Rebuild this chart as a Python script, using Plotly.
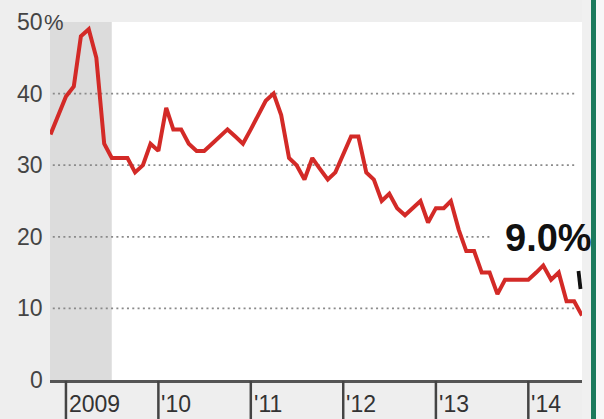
import plotly.graph_objects as go
import pandas as pd

# ---- data ----
dates = pd.date_range("2008-11-01", "2014-08-01", freq="MS")
values = [34.3, 37, 39.6, 41, 48, 49, 45, 33, 31, 31, 31, 29, 30, 33,  # Nov08-Dec09
          32, 38, 35, 35, 33, 32, 32, 33, 34, 35, 34, 33,                 # 2010
          35, 37, 39, 40, 37, 31, 30, 28, 31, 29.5, 28, 29,               # 2011
          31.5, 34, 34, 29, 28, 25, 26, 24, 23, 24, 25, 22,               # 2012
          24, 24, 25, 21, 18, 18, 15, 15, 12, 14, 14, 14,                 # 2013
          14, 15, 16, 14, 15, 11, 11, 9]                                  # 2014
year_ticks = ["2009-01-01", "2010-01-01", "2011-01-01", "2012-01-01", "2013-01-01", "2014-01-01"]
year_labels = ["2009", "'10", "'11", "'12", "'13", "'14"]
y_ticks = [0, 10, 20, 30, 40, 50]
y_labels = ["0", "10", "20", "30", "40", "50"]
recession = ["2008-10-30", "2009-07-01"]
grid_start = "2008-10-20"
grid_ends = {10: "2014-07-12", 20: "2013-08-11", 30: "2014-07-12", 40: "2014-07-12"}
last_label = "9.0%"

FONT = "Liberation Sans"
L, R, T, B = 50, 22, 22, 39
W, H = 604, 419
pw, ph = W - L - R, H - T - B

def px_x(p):
    return (p - L) / pw

def px_y(p):
    return (H - B - p) / ph

fig = go.Figure()
fig.add_trace(go.Scatter(x=dates, y=values, mode="lines",
                         line=dict(color="#d32a27", width=4),
                         hoverinfo="skip", showlegend=False))

shapes = []
# recession shading
shapes.append(dict(type="rect", xref="x", yref="y", x0=recession[0], x1=recession[1],
                   y0=0, y1=50, fillcolor="#dcdcdc", line=dict(width=0), layer="below"))
# dotted gridlines (drawn over the shading)
for v in y_ticks[1:-1]:
    shapes.append(dict(type="line", xref="x", yref="y", x0=grid_start, x1=grid_ends[v],
                       y0=v, y1=v, line=dict(color="#8a8a8a", width=1.8, dash="2px,3.3px"),
                       layer="below"))
# year tick marks hanging below the axis
for d in year_ticks:
    shapes.append(dict(type="line", xref="x", yref="paper", x0=d, x1=d,
                       y0=px_y(381), y1=px_y(H + 2), line=dict(color="#444", width=2.5),
                       layer="above"))
# right strip and green bar
shapes.append(dict(type="rect", xref="paper", yref="paper", x0=px_x(582), x1=px_x(591),
                   y0=px_y(H), y1=px_y(0), fillcolor="#f0f0f0", line=dict(width=0), layer="below"))
shapes.append(dict(type="rect", xref="paper", yref="paper", x0=px_x(596), x1=px_x(W + 2),
                   y0=px_y(H + 2), y1=px_y(-2), fillcolor="#f7f7f7", line=dict(width=0), layer="above"))
shapes.append(dict(type="rect", xref="paper", yref="paper", x0=px_x(591), x1=px_x(596),
                   y0=px_y(H + 2), y1=px_y(-2), fillcolor="#1b7a5c", line=dict(width=0), layer="above"))
# little cut-off pointer mark
shapes.append(dict(type="line", xref="paper", yref="paper", x0=px_x(578.5), x1=px_x(580.5),
                   y0=px_y(271), y1=px_y(289), line=dict(color="#111", width=3.8), layer="above"))

annotations = []
for v, t in zip(y_ticks, y_labels):
    annotations.append(dict(text=t, xref="paper", yref="y", x=px_x(45), y=v,
                            xanchor="right", yanchor="middle", showarrow=False,
                            font=dict(family=FONT, size=23, color="#444")))
annotations.append(dict(text="%", xref="paper", yref="y", x=px_x(42), y=50,
                        xanchor="left", yanchor="middle", showarrow=False,
                        font=dict(family=FONT, size=22, color="#444")))
for d, t in zip(year_ticks, year_labels):
    annotations.append(dict(text=t, xref="x", yref="paper", x=d, y=px_y(404),
                            xanchor="left", yanchor="middle", xshift=1, showarrow=False,
                            font=dict(family=FONT, size=23, color="#333")))
annotations.append(dict(text="<b>" + last_label + "</b>", xref="paper", yref="paper",
                        x=px_x(503), y=px_y(238), xanchor="left", yanchor="middle",
                        showarrow=False, font=dict(family=FONT, size=38, color="#111")))

fig.update_layout(
    width=W, height=H,
    margin=dict(l=L, r=R, t=T, b=B, autoexpand=False),
    paper_bgcolor="#eeeeee", plot_bgcolor="#ffffff",
    shapes=shapes, annotations=annotations, showlegend=False,
    xaxis=dict(type="date", range=["2008-10-30", "2014-08-01"], showgrid=False,
               zeroline=False, showline=True, linecolor="#555", linewidth=3,
               ticks="", showticklabels=False, automargin=False, fixedrange=True),
    yaxis=dict(range=[0, 50], showgrid=False, zeroline=False, showline=False,
               showticklabels=False, ticks="", automargin=False, fixedrange=True),
)

fig.write_html("out.html", config={"displayModeBar": False},
               post_script="document.body.style.margin='0px';document.body.style.overflow='hidden';")
